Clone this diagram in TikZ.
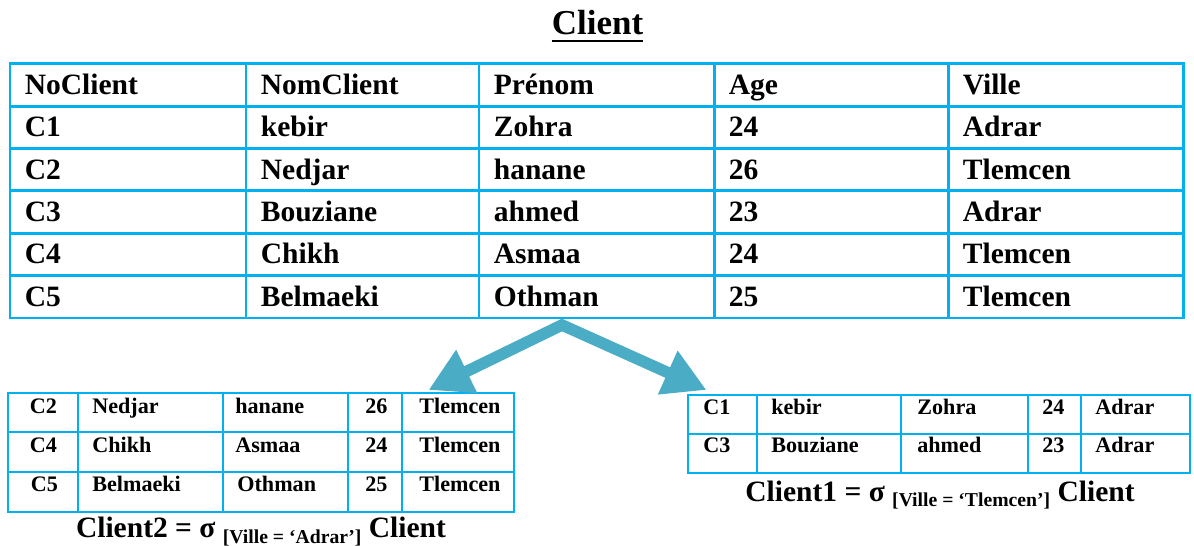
\documentclass[tikz,border=0pt]{standalone}
\usepackage{fontspec}
\setmainfont{Liberation Serif}
\usetikzlibrary{arrows.meta}

\definecolor{tblblue}{HTML}{00B0F0}
\definecolor{arrteal}{HTML}{4BACC6}

\begin{document}
\begin{tikzpicture}[x=0.02cm, y=-0.02cm,
		big/.style={anchor=base west, inner sep=0pt, font=\bfseries\fontsize{16.8}{18}\selectfont},
		small/.style={anchor=base west, inner sep=0pt, font=\bfseries\fontsize{12.6}{14}\selectfont},
		caption/.style={anchor=base, inner sep=0pt, font=\bfseries\fontsize{16.8}{18}\selectfont},
		maingrid/.style={draw=tblblue, line width=1.7pt},
		subgrid/.style={draw=tblblue, line width=0.9pt},
		split/.style={draw=arrteal, line width=0.23cm, line join=miter, {Triangle[length=0.85cm, width=0.9cm]}-{Triangle[length=0.85cm, width=0.9cm]}}]
		\useasboundingbox (0,0) rectangle (1194,546);
		% Title:
		\node[anchor=base, inner sep=0pt, font=\bfseries\fontsize{19.9}{22}\selectfont] (title) at (597.5,35){Client};
		\draw[line width=1.1pt] ([yshift=-3.2pt]title.base west) -- ([yshift=-3.2pt]title.base east);
		% Main table, grid:
		\draw[maingrid] (10,64) rectangle (1183,318);
		\draw[maingrid] (10,106.3) -- (1183,106.3) (10,148.7) -- (1183,148.7) (10,191) -- (1183,191) (10,233.3) -- (1183,233.3) (10,275.7) -- (1183,275.7);
		\draw[maingrid] (246,64) -- (246,318) (479,64) -- (479,318) (714,64) -- (714,318) (948,64) -- (948,318);
		% Main table, cells:
		\node[big] (h1) at (24.5,95){NoClient};
		\node[big] (h2) at (260.5,95){NomClient};
		\node[big] (h3) at (493.5,95){Prénom};
		\node[big] (h4) at (728.5,95){Age};
		\node[big] (h5) at (962.5,95){Ville};
		\node[big] (r1c1) at (24.5,137){C1};
		\node[big] (r1c2) at (260.5,137){kebir};
		\node[big] (r1c3) at (493.5,137){Zohra};
		\node[big] (r1c4) at (728.5,137){24};
		\node[big] (r1c5) at (962.5,137){Adrar};
		\node[big] (r2c1) at (24.5,179.5){C2};
		\node[big] (r2c2) at (260.5,179.5){Nedjar};
		\node[big] (r2c3) at (493.5,179.5){hanane};
		\node[big] (r2c4) at (728.5,179.5){26};
		\node[big] (r2c5) at (962.5,179.5){Tlemcen};
		\node[big] (r3c1) at (24.5,221.5){C3};
		\node[big] (r3c2) at (260.5,221.5){Bouziane};
		\node[big] (r3c3) at (493.5,221.5){ahmed};
		\node[big] (r3c4) at (728.5,221.5){23};
		\node[big] (r3c5) at (962.5,221.5){Adrar};
		\node[big] (r4c1) at (24.5,264){C4};
		\node[big] (r4c2) at (260.5,264){Chikh};
		\node[big] (r4c3) at (493.5,264){Asmaa};
		\node[big] (r4c4) at (728.5,264){24};
		\node[big] (r4c5) at (962.5,264){Tlemcen};
		\node[big] (r5c1) at (24.5,306.5){C5};
		\node[big] (r5c2) at (260.5,306.5){Belmaeki};
		\node[big] (r5c3) at (493.5,306.5){Othman};
		\node[big] (r5c4) at (728.5,306.5){25};
		\node[big] (r5c5) at (962.5,306.5){Tlemcen};
		% Client2 (left):
		\draw[subgrid] (8,393) rectangle (514,512);
		\draw[subgrid] (8,432) -- (514,432) (8,472) -- (514,472);
		\draw[subgrid] (78,393) -- (78,512) (223,393) -- (223,512) (348,393) -- (348,512) (402,393) -- (402,512);
		\node[small] (a1c1) at (29.5,414){C2};
		\node[small] (a1c2) at (92,414){Nedjar};
		\node[small] (a1c3) at (235,414){hanane};
		\node[small] (a1c4) at (365,414){26};
		\node[small] (a1c5) at (419,414){Tlemcen};
		\node[small] (a2c1) at (29.5,452.5){C4};
		\node[small] (a2c2) at (92,452.5){Chikh};
		\node[small] (a2c3) at (235,452.5){Asmaa};
		\node[small] (a2c4) at (365,452.5){24};
		\node[small] (a2c5) at (419,452.5){Tlemcen};
		\node[small] (a3c1) at (30.5,492){C5};
		\node[small] (a3c2) at (92,492){Belmaeki};
		\node[small] (a3c3) at (237,492){Othman};
		\node[small] (a3c4) at (365,492){25};
		\node[small] (a3c5) at (419,492){Tlemcen};
		\node[caption] (cap2) at (261,538){Client2 = σ \raisebox{-3pt}{\fontsize{11.2}{12}\selectfont [Ville = ‘Adrar’]} Client};
		% Client1 (right):
		\draw[subgrid] (688,395) rectangle (1190,473);
		\draw[subgrid] (688,434) -- (1190,434);
		\draw[subgrid] (757,395) -- (757,473) (901,395) -- (901,473) (1028,395) -- (1028,473) (1081,395) -- (1081,473);
		\node[small] (b1c1) at (703,415){C1};
		\node[small] (b1c2) at (771,415){kebir};
		\node[small] (b1c3) at (917,415){Zohra};
		\node[small] (b1c4) at (1042,415){24};
		\node[small] (b1c5) at (1095,415){Adrar};
		\node[small] (b2c1) at (703,453){C3};
		\node[small] (b2c2) at (771,453){Bouziane};
		\node[small] (b2c3) at (917,453){ahmed};
		\node[small] (b2c4) at (1042,453){23};
		\node[small] (b2c5) at (1095,453){Adrar};
		\node[caption] (cap1) at (940,501.7){Client1 = σ \raisebox{-3pt}{\fontsize{11.2}{12}\selectfont [Ville = ‘Tlemcen’]} Client};
		% Arrows:
		\coordinate (fork) at (562,325);
		\coordinate (toleft) at (428.5,390);
		\coordinate (toright) at (706.5,390);
		\draw[split] (toleft) -- (fork) -- (toright);
	\end{tikzpicture}
\end{document}
